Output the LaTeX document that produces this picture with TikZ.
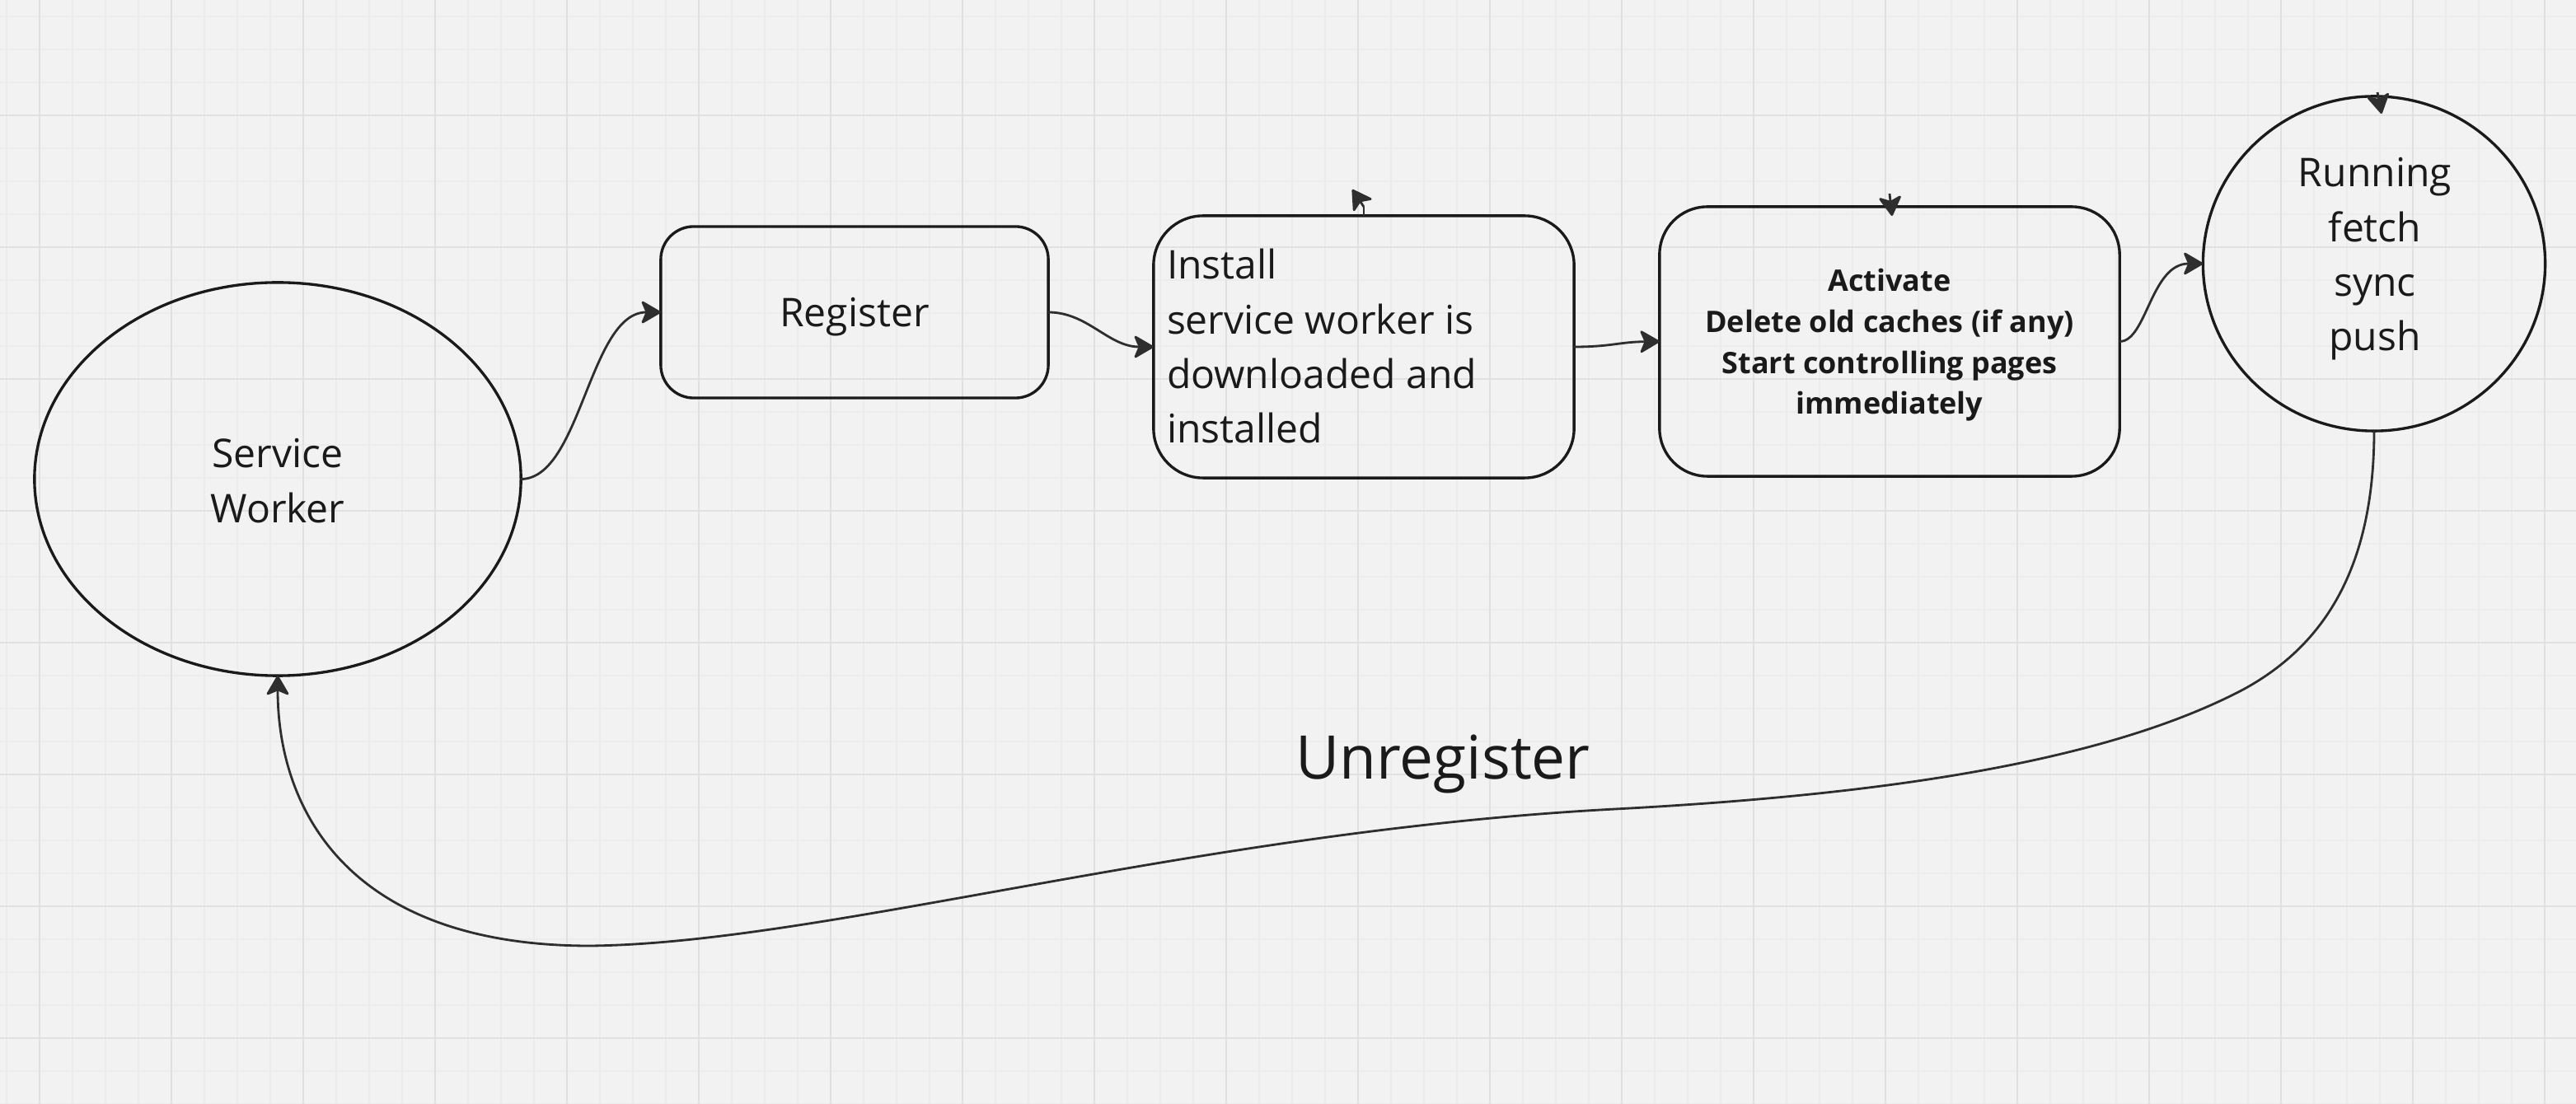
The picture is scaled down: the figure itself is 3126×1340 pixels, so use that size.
\documentclass[tikz,border=0pt]{standalone}
\usepackage{fontspec}
\setmainfont{Open Sans}
\usetikzlibrary{shapes.geometric,arrows.meta}
\definecolor{bg}{HTML}{F2F2F2}
\definecolor{gmaj}{HTML}{E1E1E1}
\definecolor{gmin}{HTML}{ECECEC}
\definecolor{ink}{HTML}{1A1A1A}
\definecolor{wire}{HTML}{2E2E2E}
\newcommand{\txtreg}{\fontsize{13.66pt}{18.78pt}\selectfont}
\newcommand{\txtbold}{\fontsize{10.24pt}{14.08pt}\selectfont\bfseries}
\newcommand{\txtbig}{\fontsize{20.77pt}{28pt}\selectfont}
\tikzset{
  shapebox/.style={draw=ink, line width=0.95pt, inner sep=0pt, outer sep=0pt},
  roundbox/.style={shapebox, rectangle},
  oval/.style={shapebox, ellipse},
  wireline/.style={draw=wire, line width=0.8pt},
  conn/.style={wireline, -{Stealth[length=7.4pt,width=8.6pt,inset=1.8pt,round]}},
  lab/.style={text=ink, inner sep=0pt, outer sep=0pt},
  gridminor/.style={draw=gmin, line width=0.4pt},
  gridmajor/.style={draw=gmaj, line width=0.65pt},
}
\begin{document}
\begin{tikzpicture}[x=0.01cm,y=-0.01cm]
\useasboundingbox (0,0) rectangle (3126,1340);
\fill[bg] (0,0) rectangle (3126,1340);
\foreach \x in {8,48,...,3126} \draw[gridminor] (\x,0) -- (\x,1340);
\foreach \y in {20,60,...,1340} \draw[gridminor] (0,\y) -- (3126,\y);
\foreach \x in {48,208,...,3126} \draw[gridmajor] (\x,0) -- (\x,1340);
\foreach \y in {140,300,...,1340} \draw[gridmajor] (0,\y) -- (3126,\y);

% shapes
\node[oval, minimum width=5.90cm, minimum height=4.77cm] (sw) at (337,581.5) {};
\node[roundbox, rounded corners=0.4cm, minimum width=4.70cm, minimum height=2.08cm] (reg) at (1037,379) {};
\node[roundbox, rounded corners=0.6cm, minimum width=5.10cm, minimum height=3.18cm] (ins) at (1655,421) {};
\node[roundbox, rounded corners=0.58cm, minimum width=5.58cm, minimum height=3.27cm] (act) at (2293,414.5) {};
\node[oval, minimum width=4.15cm, minimum height=4.06cm] (run) at (2881,320) {};

% texts
\node[lab, font=\txtreg, anchor=base] (swt) at (337,568) {\begin{tabular}[t]{@{}c@{}}Service\\Worker\end{tabular}};
\node[lab, font=\txtreg, anchor=base] (regt) at (1037,397) {Register};
\node[lab, font=\txtreg, anchor=base west] (inst) at (1416,339) {\begin{tabular}[t]{@{}l@{}}Install\\service worker is\\downloaded and\\installed\end{tabular}};
\node[lab, font=\txtbold, anchor=base] (actt) at (2293,354) {\begin{tabular}[t]{@{}c@{}}Activate\\Delete old caches (if any)\\Start controlling pages\\immediately\end{tabular}};
\node[lab, font=\txtreg, anchor=base] (runt) at (2882,227) {\begin{tabular}[t]{@{}c@{}}Running\\fetch\\sync\\push\end{tabular}};
\node[lab, font=\txtbig, anchor=base] (unr) at (1751,946) {Unregister};

% connectors
\draw[conn] (sw.east) .. controls (705,581.5) and (715,379) .. (reg.west);
\draw[conn] (reg.east) .. controls (1320,379) and (1345,421) .. (ins.west);
\draw[conn] (ins.east) .. controls (1955,421) and (1965,415) .. (act.west);
\draw[conn] (act.east) .. controls (2605,414.5) and (2610,320) .. (run.west);
\draw[conn] (run.south) .. controls (2881,700) and (2812,788) .. (2722,837)
  .. controls (2545,930) and (2260,966) .. (1960,982)
  .. controls (1450,1009) and (1000,1145) .. (716,1148)
  .. controls (420,1148) and (337,980) .. (sw.south);

% stray arrow tips
\coordinate (insbase) at (1655,251);
\coordinate (insstub) at (1641,230);
\coordinate (actstub) at (2293,235);
\coordinate (runstub) at (2885,112);
\draw[wireline] (ins.north) -- (insbase);
\draw[conn] (insbase) -- (insstub);
\draw[conn] (actstub) -- (2296,262);
\draw[conn] (runstub) -- (2890,138);
\end{tikzpicture}
\end{document}
